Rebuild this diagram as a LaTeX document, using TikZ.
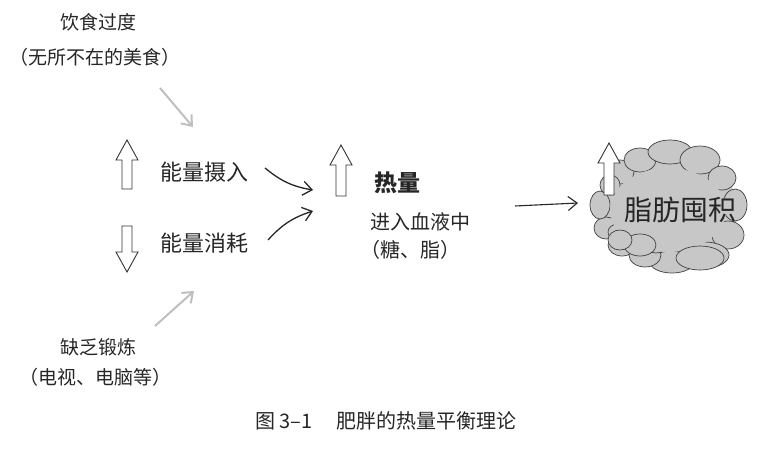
\documentclass[tikz,border=0pt]{standalone}
\usepackage{fontspec}
\setmainfont{Noto Sans CJK SC}
\usetikzlibrary{arrows.meta}
\begin{document}
\begin{tikzpicture}[x=1pt,y=-1pt,
  txt/.style={font=\fontsize{22}{24}\selectfont,text=black!85,inner sep=0},
  small/.style={font=\fontsize{19}{21}\selectfont,text=black!85,inner sep=0},
  garrow/.style={draw=black!25,line width=2pt,-{Straight Barb[length=9pt,width=14pt]}},
  barrow/.style={draw=black!85,line width=1.3pt,-{Straight Barb[length=9pt,width=14pt]}},
  hollow/.style={draw=black!80,fill=white,line width=0.9pt},
  bub/.style={draw=black!75,fill=black!22,line width=0.7pt}]
\useasboundingbox (0,0) rectangle (760,452);
\newcommand{\uparr}[3]{\draw[hollow] (#1-5,#3) -- (#1-5,#2+20) -- (#1-11,#2+20) -- (#1,#2) -- (#1+11,#2+20) -- (#1+5,#2+20) -- (#1+5,#3) -- cycle;}
\newcommand{\dnarr}[3]{\draw[hollow] (#1-5,#2) -- (#1-5,#3-20) -- (#1-11,#3-20) -- (#1,#3) -- (#1+11,#3-20) -- (#1+5,#3-20) -- (#1+5,#2) -- cycle;}
\node[small] (t1) at (98,22) {饮食过度};
\node[small] (t2) at (95,57) {（无所不在的美食）};
\coordinate (g1s) at (160,88); \coordinate (g1e) at (193,127);
\draw[garrow] (g1s) -- (g1e);
\uparr{127}{140}{189}
\node[txt] (in) at (204,172) {能量摄入};
\dnarr{127}{226}{272}
\node[txt] (out) at (204,243) {能量消耗};
\coordinate (a1s) at (265,168); \coordinate (a1e) at (313,190);
\coordinate (a2s) at (268,240); \coordinate (a2e) at (313,211);
\draw[barrow] (a1s) to[bend right=15] (a1e);
\draw[barrow] (a2s) to[bend left=15] (a2e);
\uparr{341}{145}{196}
\node[txt,font=\fontsize{23}{24}\selectfont\bfseries] (heat) at (397,183) {热量};
\node[small,font=\fontsize{20}{22}\selectfont] (b1) at (420,222) {进入血液中};
\node[small,font=\fontsize{20}{22}\selectfont] (b2) at (410,250) {（糖、脂）};
\coordinate (a3s) at (515,206); \coordinate (a3e) at (578,203);
\draw[barrow,line width=1.1pt] (a3s) -- (a3e);
% cloud
\fill[black!22] (668,210) ellipse (70 and 55);
\foreach \x/\y/\a/\b in {
 620/172/14/12, 640/160/16/12, 670/152/22/12, 700/160/20/14, 722/178/14/12,
 735/205/12/16, 728/235/16/14, 705/255/24/13, 672/262/22/11, 645/255/16/12,
 622/245/14/11, 606/228/12/11, 600/205/10/14, 610/185/10/10,
 656/244/12/9, 618/232/10/8}
  \draw[bub] (\x,\y) ellipse (\a pt and \b pt);
\fill[black!22] (668,210) ellipse (58 and 42);
\draw[bub] (640,245) ellipse (16 and 11);
\draw[bub] (620,240) ellipse (12 and 10);
\draw[bub] (700,258) ellipse (24 and 12);
\node[txt,font=\fontsize{28}{30}\selectfont] (fat) at (680,210) {脂肪囤积};
\uparr{609}{143}{195}
\node[small] (t3) at (98,347) {缺乏锻炼};
\node[small] (t4) at (95,377) {（电视、电脑等）};
\coordinate (g2s) at (155,326); \coordinate (g2e) at (194,291);
\draw[garrow] (g2s) -- (g2e);
\node[small,font=\fontsize{20}{22}\selectfont] (cap) at (386,421) {图 3–1\hspace{24pt}肥胖的热量平衡理论};
\end{tikzpicture}
\end{document}
